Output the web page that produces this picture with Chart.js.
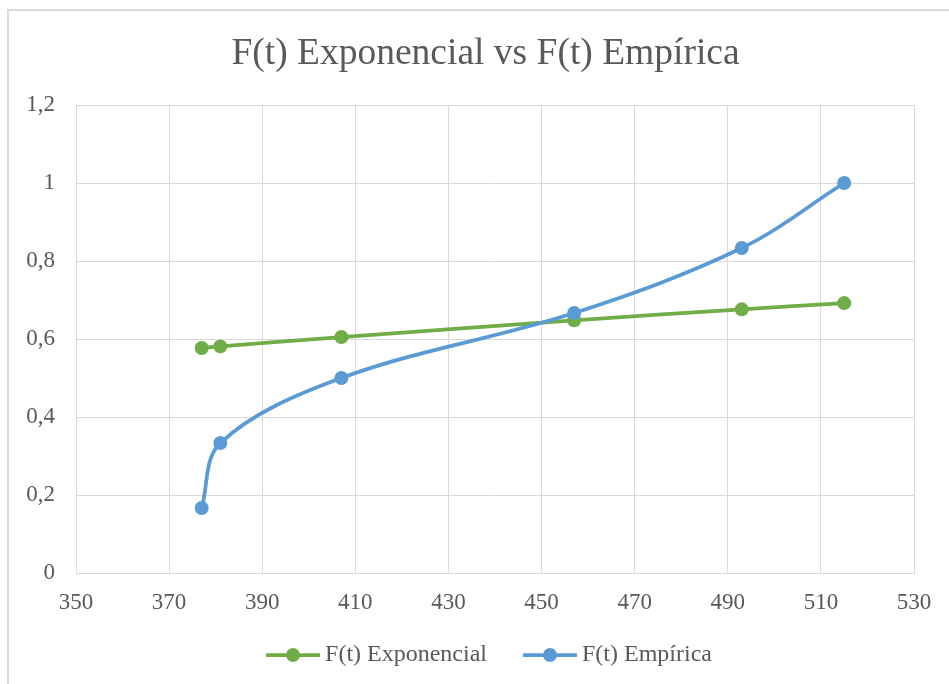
<!DOCTYPE html>
<html>
<head>
<meta charset="utf-8">
<script src="https://cdn.jsdelivr.net/npm/chart.js@4.4.1/dist/chart.umd.min.js"></script>
<style>
    html, body { margin: 0; padding: 0; background: #fff; overflow: hidden; }
    #frame {
        position: absolute; left: 7px; top: 9px;
        width: 1000px; height: 720px;
        border: 2px solid #d9d9d9;
    }
    #chart { position: absolute; left: 0; top: 0; }
</style>
</head>
<body>
<div id="frame"></div>
<canvas id="chart" width="949" height="684"></canvas>
<script>
//data
const tiempos = [377, 381, 407, 457, 493, 515]
const fExponencial = [0.577, 0.581, 0.605, 0.648, 0.676, 0.692]
const fEmpirica = [0.1667, 0.3333, 0.5, 0.6667, 0.8333, 1]
const seriesNames = ['F(t) Exponencial', 'F(t) Empírica']
const yTickLabels = ['0', '0,2', '0,4', '0,6', '0,8', '1', '1,2']

const verde = '#70ad47'
const azul = '#5b9bd5'
const gris = '#595959'
const fuente = 'Liberation Serif'
const legendSize = 24

//legend marker: short line with a dot, drawn on its own canvas
const lead = 7, lineLen = 54, textGap = 5
const boxW = lead + lineLen + textGap - legendSize / 2
function legendMark(color) {
    const w = 2 * (lead + lineLen - boxW / 2)
    const x0 = lead - (boxW / 2 - w / 2)
    const c = document.createElement('canvas')
    c.width = Math.ceil(w)
    c.height = 18
    const ctx = c.getContext('2d')
    ctx.strokeStyle = color
    ctx.lineWidth = 3.75
    ctx.beginPath()
    ctx.moveTo(x0, 9)
    ctx.lineTo(x0 + lineLen, 9)
    ctx.stroke()
    ctx.fillStyle = color
    ctx.beginPath()
    ctx.arc(x0 + lineLen / 2, 9, 7, 0, Math.PI * 2)
    ctx.fill()
    return c
}
const marks = [legendMark(verde), legendMark(azul)]

const toPoints = ys => tiempos.map((t, i) => ({x: t, y: ys[i]}))

const chartData = {
    datasets: [{
        label: seriesNames[0],
        data: toPoints(fExponencial),
        borderColor: verde,
        backgroundColor: verde,
        order: 2
    }, {
        label: seriesNames[1],
        data: toPoints(fEmpirica),
        borderColor: azul,
        backgroundColor: azul,
        order: 1
    }]
}

const config = {
    type: 'scatter',
    data: chartData,
    options: {
        responsive: false,
        animation: false,
        showLine: true,
        layout: {
            padding: {top: 10, left: 26, right: 4, bottom: 7}
        },
        elements: {
            line: { borderWidth: 3.75, tension: 0.35 },
            point: { radius: 7, hoverRadius: 7, borderWidth: 0 }
        },
        plugins: {
            title: {
                display: true,
                text: 'F(t) Exponencial vs F(t) Empírica',
                color: gris,
                font: { family: fuente, size: 37.5, weight: 'normal' },
                padding: { top: 22, bottom: 28 }
            },
            legend: {
                position: 'bottom',
                labels: {
                    color: gris,
                    font: { family: fuente, size: legendSize },
                    usePointStyle: true,
                    pointStyleWidth: boxW,
                    padding: 29,
                    generateLabels: chart => chart.data.datasets.map((ds, i) => ({
                        text: ds.label,
                        pointStyle: marks[i],
                        fontColor: gris,
                        datasetIndex: i,
                        hidden: false,
                        lineWidth: 0
                    }))
                }
            },
            tooltip: { enabled: false }
        },
        scales: {
            x: {
                type: 'linear',
                min: 350,
                max: 530,
                afterFit: scale => { scale.height = 41 },
                grid: { color: '#d9d9d9', lineWidth: 1, drawTicks: false },
                border: { color: '#d9d9d9' },
                ticks: {
                    stepSize: 20,
                    padding: 16,
                    color: gris,
                    font: { family: fuente, size: 23 }
                }
            },
            y: {
                min: 0,
                max: 1.2,
                afterFit: scale => { scale.width = 50 },
                grid: { color: '#d9d9d9', lineWidth: 1, drawTicks: false },
                border: { color: '#d9d9d9' },
                ticks: {
                    stepSize: 0.2,
                    padding: 21,
                    color: gris,
                    font: { family: fuente, size: 23 },
                    callback: (value, index) => yTickLabels[index]
                }
            },
            //empty right-hand margin so the plot ends before the title's centre line
            margen: {
                type: 'linear',
                position: 'right',
                afterFit: scale => { scale.width = 31 },
                grid: { display: false },
                border: { display: false },
                ticks: { display: false }
            }
        }
    }
}

//render chart
const grafico = new Chart(document.getElementById('chart'), config)
</script>
</body>
</html>
